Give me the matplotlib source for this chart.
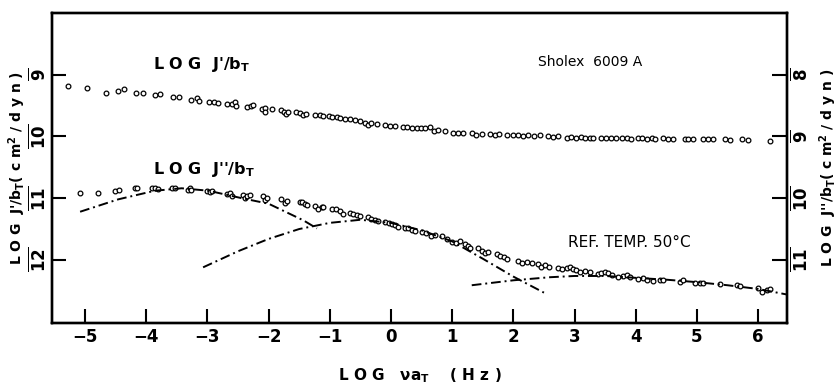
import numpy as np
import matplotlib.pyplot as plt

plt.rcParams['mathtext.fontset'] = 'custom'
plt.rcParams['mathtext.rm'] = 'DejaVu Sans:bold'
plt.rcParams['mathtext.it'] = 'DejaVu Sans:bold'
plt.rcParams['mathtext.bf'] = 'DejaVu Sans:bold'

# log frequency (reduced to 50 C) and log compliance, Sholex 6009 A
jp_x = [-5.27, -4.96, -4.65, -4.46, -4.36, -4.16, -4.06, -3.86, -3.77, -3.56, -3.46,
        -3.27, -3.17, -3.14, -2.97, -2.89, -2.83, -2.68, -2.60, -2.55, -2.54,
        -2.36, -2.28, -2.25, -2.10, -2.06, -1.95, -2.06, -1.79, -1.74, -1.72, -1.69,
        -1.56, -1.49, -1.43, -1.39, -1.24, -1.16, -1.11, -1.02, -0.97,
        -0.89, -0.83, -0.75, -0.67, -0.59, -0.51, -0.42, -0.37, -0.32, -0.23,
        -0.10, -0.02, 0.07, 0.20, 0.26, 0.34, 0.42, 0.49, 0.56, 0.63,
        0.71, 0.77, 0.88, 1.02, 1.10, 1.18, 1.32, 1.39, 1.48, 1.62, 1.70, 1.77,
        1.90, 2.00, 2.08, 2.16, 2.24, 2.33, 2.43, 2.57,
        2.65, 2.73, 2.87, 2.95, 3.03, 3.11, 3.17, 3.25, 3.30, 3.44, 3.52, 3.60,
        3.68, 3.77, 3.85, 3.93, 4.04, 4.10, 4.18, 4.26, 4.31, 4.45, 4.53, 4.61,
        4.80, 4.86, 4.94, 5.10, 5.18, 5.26, 5.46, 5.54, 5.73, 5.84, 6.19]
jp_y = [-9.18, -9.21, -9.29, -9.26, -9.24, -9.29, -9.30, -9.33, -9.31, -9.36, -9.36,
        -9.41, -9.38, -9.42, -9.44, -9.44, -9.46, -9.48, -9.47, -9.45, -9.50,
        -9.52, -9.50, -9.49, -9.56, -9.54, -9.55, -9.60, -9.57, -9.61, -9.64, -9.60,
        -9.61, -9.62, -9.65, -9.63, -9.66, -9.66, -9.67, -9.67, -9.68,
        -9.69, -9.71, -9.72, -9.72, -9.74, -9.75, -9.78, -9.81, -9.79, -9.80,
        -9.81, -9.83, -9.83, -9.85, -9.84, -9.86, -9.87, -9.87, -9.86, -9.85,
        -9.91, -9.89, -9.92, -9.94, -9.95, -9.94, -9.94, -9.97, -9.96, -9.96, -9.97, -9.96,
        -9.97, -9.97, -9.98, -9.99, -9.98, -9.99, -9.98, -9.99,
        -10.01, -10.00, -10.02, -10.01, -10.02, -10.01, -10.02, -10.02, -10.03, -10.02, -10.03, -10.02,
        -10.03, -10.02, -10.03, -10.04, -10.03, -10.03, -10.04, -10.03, -10.04, -10.03, -10.04, -10.05,
        -10.04, -10.05, -10.05, -10.04, -10.05, -10.05, -10.05, -10.06, -10.05, -10.06, -10.08]

jpp_x = [-5.08, -4.78, -4.51, -4.44, -4.19, -4.15, -3.91, -3.86, -3.81, -3.58, -3.53,
         -3.31, -3.28, -3.26, -3.01, -2.96, -2.93, -2.68, -2.63, -2.60,
         -2.41, -2.39, -2.36, -2.30, -2.09, -2.06, -2.03, -1.79, -1.73, -1.70,
         -1.49, -1.46, -1.41, -1.38, -1.24, -1.19, -1.13, -1.11,
         -0.97, -0.90, -0.83, -0.79, -0.67, -0.62, -0.56, -0.51,
         -0.37, -0.32, -0.26, -0.21, -0.10, -0.04, 0.01, 0.07, 0.12,
         0.23, 0.28, 0.34, 0.39, 0.50, 0.58, 0.66, 0.72, 0.83, 0.91, 0.99, 1.07,
         1.13, 1.21, 1.26, 1.29, 1.43, 1.48, 1.54, 1.59, 1.73, 1.78, 1.84, 1.89,
         2.08, 2.14, 2.22, 2.30, 2.41, 2.46, 2.52, 2.59,
         2.73, 2.79, 2.87, 2.93, 2.98, 3.03, 3.09, 3.17, 3.25,
         3.39, 3.44, 3.50, 3.55, 3.61, 3.71, 3.80, 3.85, 3.91,
         4.04, 4.12, 4.18, 4.29, 4.40, 4.45, 4.72, 4.78, 4.97, 5.05, 5.10,
         5.38, 5.65, 5.70, 6.00, 6.06, 6.14, 6.19]
jpp_y = [-10.92, -10.91, -10.89, -10.87, -10.84, -10.83, -10.83, -10.83, -10.85, -10.84, -10.83,
         -10.86, -10.83, -10.86, -10.88, -10.90, -10.88, -10.93, -10.92, -10.96,
         -10.95, -10.99, -10.97, -10.95, -10.96, -11.03, -10.99, -11.02, -11.08, -11.04,
         -11.06, -11.06, -11.10, -11.11, -11.13, -11.17, -11.15, -11.14,
         -11.17, -11.18, -11.21, -11.25, -11.24, -11.25, -11.27, -11.29,
         -11.30, -11.33, -11.35, -11.37, -11.39, -11.40, -11.42, -11.44, -11.46,
         -11.48, -11.49, -11.51, -11.53, -11.55, -11.56, -11.61, -11.60, -11.62, -11.66, -11.71, -11.73,
         -11.69, -11.75, -11.78, -11.80, -11.80, -11.86, -11.89, -11.87, -11.90, -11.94, -11.96, -11.98,
         -12.02, -12.05, -12.04, -12.05, -12.07, -12.11, -12.09, -12.11,
         -12.13, -12.15, -12.13, -12.12, -12.14, -12.17, -12.20, -12.18, -12.19,
         -12.22, -12.21, -12.19, -12.21, -12.25, -12.28, -12.26, -12.24, -12.27,
         -12.31, -12.30, -12.32, -12.34, -12.33, -12.33, -12.35, -12.33, -12.37, -12.37, -12.38,
         -12.39, -12.41, -12.42, -12.45, -12.52, -12.48, -12.47]

# dash-dot component curves of log J''
comp1_x = [-5.08, -4.46, -3.86, -3.42, -2.98, -2.44, -2.00, -1.43, -1.21]
comp1_y = [-11.22, -11.02, -10.88, -10.84, -10.88, -11.00, -11.09, -11.36, -11.49]
comp2_x = [-3.07, -2.50, -2.00, -1.50, -1.00, -0.50, 0.00, 0.50, 1.00, 1.50, 2.00, 2.50]
comp2_y = [-12.12, -11.86, -11.66, -11.50, -11.40, -11.35, -11.40, -11.52, -11.70, -11.98, -12.27, -12.53]
comp3_x = [1.32, 2.00, 2.60, 3.00, 3.50, 4.00, 4.50, 5.00, 5.50, 6.00, 6.47]
comp3_y = [-12.41, -12.33, -12.28, -12.26, -12.26, -12.29, -12.32, -12.36, -12.41, -12.47, -12.56]

x_ticks = [-5, -4, -3, -2, -1, 0, 1, 2, 3, 4, 5, 6]
left_ticks = [-9, -10, -11, -12]
left_labels = [r'$\overline{9}$', r'$\overline{10}$', r'$\overline{11}$', r'$\overline{12}$']
right_ticks = [-8, -9, -10, -11]
right_labels = [r'$\overline{8}$', r'$\overline{9}$', r'$\overline{10}$', r'$\overline{11}$']

fig = plt.figure(figsize=(8.38, 3.9), dpi=100)
ax = fig.add_axes([0.062, 0.172, 0.877, 0.795])

mk = dict(ls='none', marker='o', ms=3.4, mfc='white', mec='black', mew=0.9)
ax.plot(jp_x, jp_y, **mk)
ax.plot(jpp_x, jpp_y, **mk)
dd = dict(color='black', lw=1.4, ls=(0, (5, 2, 1, 2)))
ax.plot(comp1_x, comp1_y, **dd)
ax.plot(comp2_x, comp2_y, **dd)
ax.plot(comp3_x, comp3_y, **dd)

ax.set_xlim(-5.54, 6.47)
ax.set_ylim(-13.02, -8.0)
ax.set_xticks(x_ticks)
ax.set_xticklabels([str(t).replace('-', '\u2212') for t in x_ticks],
                   fontsize=12, fontweight='bold')
ax.set_yticks(left_ticks)
ax.set_yticklabels(left_labels, fontsize=12, rotation=90, va='center')
ax.tick_params(direction='in', length=10, width=1.5, pad=4)
ax.tick_params(axis='y', pad=2)

ax2 = ax.twinx()
ax2.set_ylim(-12.02, -7.0)
ax2.set_yticks(right_ticks)
ax2.set_yticklabels(right_labels, fontsize=12, rotation=90, va='center')
ax2.tick_params(direction='in', length=11, width=1.5, pad=2)

for a in (ax, ax2):
    for s in a.spines.values():
        s.set_linewidth(1.7)

ax.set_xlabel(r"L O G   $\nu$a$_{\rm T}$    ( H z )", fontsize=11,
              fontweight='bold', labelpad=14)
ax.set_ylabel(r"L O G  J'/b$_{\rm T}$( c m$^{2}$ / d y n )", fontsize=10,
              fontweight='bold')
ax.yaxis.set_label_coords(-0.033, 0.5)
ax2.set_ylabel(r"L O G  J''/b$_{\rm T}$( c m$^{2}$ / d y n )", fontsize=10,
               fontweight='bold', rotation=90)
ax2.yaxis.set_label_coords(1.041, 0.5)

ax.text(-3.89, -8.84, r"L O G  J'/b$_{\rm T}$", fontsize=11.5,
        fontweight='bold', va='center', ha='left')
ax.text(-3.89, -10.54, r"L O G  J''/b$_{\rm T}$", fontsize=11.5,
        fontweight='bold', va='center', ha='left')
ax.text(2.40, -8.80, 'Sholex  6009 A', fontsize=10, va='center', ha='left')
ax.text(2.89, -11.72, 'REF. TEMP. 50\u00b0C', fontsize=11, va='center', ha='left')

fig.savefig('out.png', dpi=100)
